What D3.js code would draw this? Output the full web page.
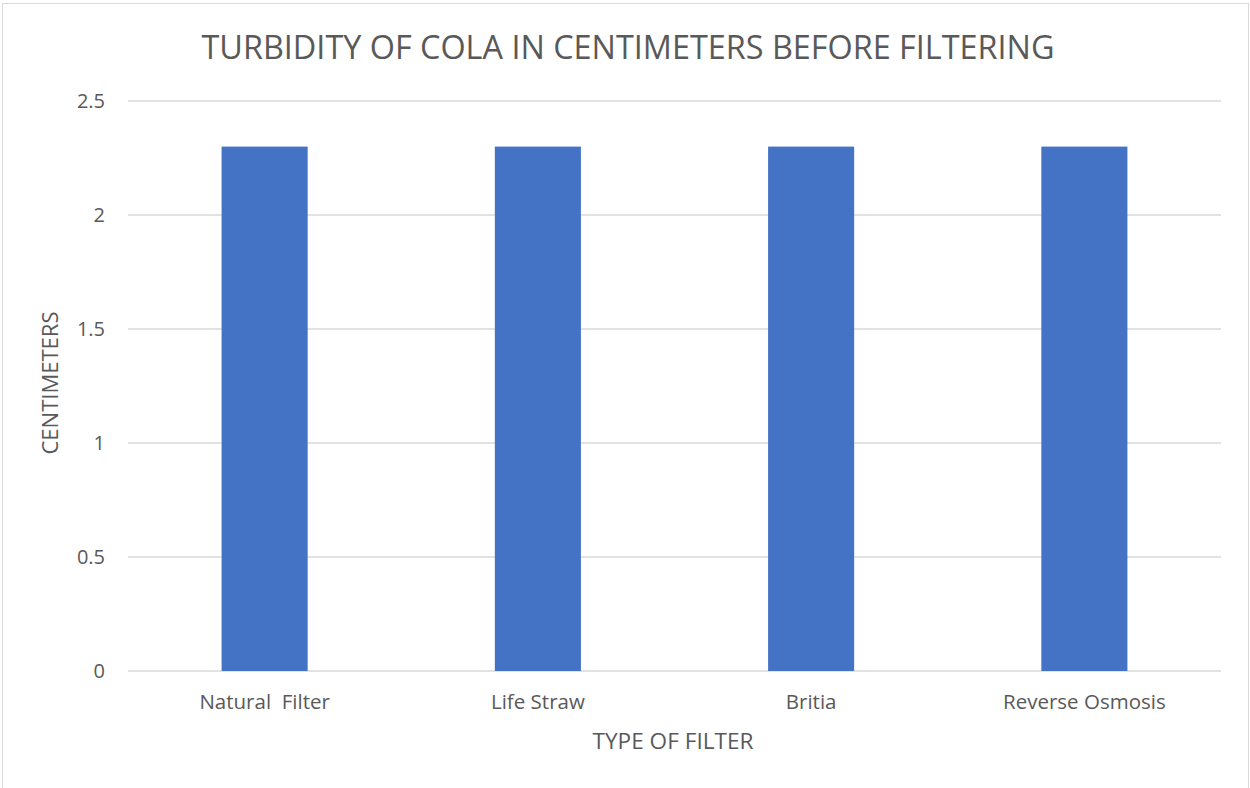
<!DOCTYPE html>
<html>
<head>
<meta charset="utf-8">
<script src="https://cdn.jsdelivr.net/npm/d3@7"></script>
<style>
  body { margin: 0; background: #fff; }
  text { font-family: "Open Sans", "Liberation Sans", sans-serif; fill: #595959; }
</style>
</head>
<body>
<svg id="chart"></svg>
<script>
// chart data
const categories = ['Natural  Filter', 'Life Straw', 'Britia', 'Reverse Osmosis'];
const values = [2.3, 2.3, 2.3, 2.3];
const yTicks = [0, 0.5, 1, 1.5, 2, 2.5];

const width = 1250, height = 788;
const margin = { top: 101, right: 30, bottom: 117, left: 128 };
const innerW = 1221 - margin.left;
const innerH = 671 - margin.top;

const svg = d3.select('#chart')
  .attr('width', width)
  .attr('height', height);

// outer chart border
svg.append('rect')
  .attr('x', 2.5).attr('y', 3.5)
  .attr('width', 1246).attr('height', 800)
  .attr('fill', 'none')
  .attr('stroke', '#d9d9d9');

const chart = svg.append('g')
  .attr('transform', `translate(${margin.left},${margin.top})`);

const xScale = d3.scaleBand()
  .domain(categories)
  .range([0, innerW])
  .paddingInner(0.685)
  .paddingOuter(0.3425);

const yScale = d3.scaleLinear()
  .domain([0, 2.5])
  .range([innerH, 0]);

// gridlines
chart.selectAll('.grid')
  .data(yTicks)
  .join('line')
  .attr('class', 'grid')
  .attr('x1', 0).attr('x2', innerW)
  .attr('y1', d => yScale(d)).attr('y2', d => yScale(d))
  .attr('stroke', '#d9d9d9')
  .attr('stroke-width', 1.3);

// y tick labels
chart.selectAll('.ytick')
  .data(yTicks)
  .join('text')
  .attr('class', 'ytick')
  .attr('x', -23)
  .attr('y', d => yScale(d))
  .attr('dy', '0.35em')
  .attr('text-anchor', 'end')
  .style('font-size', '20px')
  .text(d => d);

// bars
chart.selectAll('.bar')
  .data(values)
  .join('rect')
  .attr('class', 'bar')
  .attr('x', (d, i) => xScale(categories[i]))
  .attr('width', xScale.bandwidth())
  .attr('y', d => yScale(d))
  .attr('height', d => innerH - yScale(d))
  .attr('fill', '#4472c4');

// x labels
chart.selectAll('.xtick')
  .data(categories)
  .join('text')
  .attr('class', 'xtick')
  .attr('x', d => xScale(d) + xScale.bandwidth() / 2)
  .attr('y', innerH + 38)
  .attr('text-anchor', 'middle')
  .style('font-size', '20.5px')
  .style('white-space', 'pre')
  .text(d => d);

// title
svg.append('text')
  .attr('x', 628)
  .attr('y', 59)
  .attr('text-anchor', 'middle')
  .attr('textLength', 853)
  .attr('lengthAdjust', 'spacingAndGlyphs')
  .style('font-size', '33px')
  .text('TURBIDITY OF COLA IN CENTIMETERS BEFORE FILTERING');

// axis titles
svg.append('text')
  .attr('x', 673)
  .attr('y', 749)
  .attr('text-anchor', 'middle')
  .attr('textLength', 161)
  .attr('lengthAdjust', 'spacingAndGlyphs')
  .style('font-size', '22px')
  .text('TYPE OF FILTER');

svg.append('text')
  .attr('transform', 'translate(58,383) rotate(-90)')
  .attr('text-anchor', 'middle')
  .attr('textLength', 143)
  .attr('lengthAdjust', 'spacingAndGlyphs')
  .style('font-size', '22px')
  .text('CENTIMETERS');
</script>
</body>
</html>
